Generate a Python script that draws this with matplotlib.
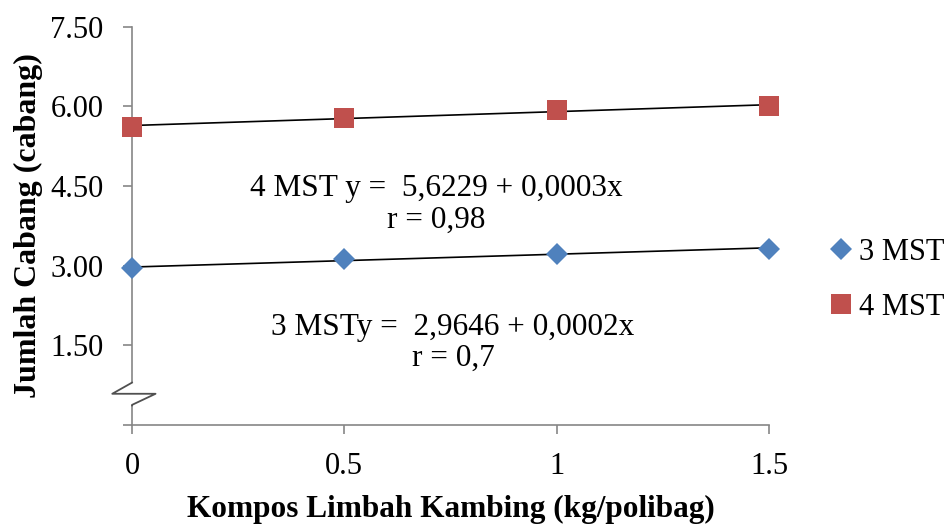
import numpy as np
import matplotlib
matplotlib.use("Agg")
import matplotlib.pyplot as plt
from matplotlib.transforms import blended_transform_factory
from matplotlib.patches import Rectangle
from matplotlib.lines import Line2D

plt.rcParams['font.family'] = ['Liberation Serif', 'DejaVu Serif']

# data
dosis = [0, 0.5, 1, 1.5]
mst3 = [2.95, 3.12, 3.22, 3.32]
mst4 = [5.62, 5.79, 5.93, 6.01]
yticks = [0, 1.5, 3.0, 4.5, 6.0, 7.5]
ytick_labels = ['', '1.50', '3.00', '4.50', '6.00', '7.50']
xticks = [0, 0.5, 1, 1.5]
xtick_labels = ['0', '0.5', '1', '1.5']

blue = '#4F81BD'
red = '#C0504D'
gray = '#868686'

fig = plt.figure(figsize=(9.51, 5.25), dpi=100)
ax = fig.add_axes([0.1388, 0.1914, 0.6698, 0.7572])

x = np.array(dosis)
# trendlines (least squares on the points)
for ys in (mst3, mst4):
    b, a = np.polyfit(x, ys, 1)
    ax.plot(x, a + b * x, color='black', lw=1.2, zorder=2)

ax.plot(dosis, mst3, 'D', color=blue, markersize=11, mew=0, label='3 MST', zorder=3, clip_on=False)
ax.plot(dosis, mst4, 's', color=red, markersize=14.5, mew=0, label='4 MST', zorder=3, clip_on=False)

ax.set_xlim(0, 1.5)
ax.set_ylim(0, 7.5)
ax.set_xticks(xticks)
ax.set_xticklabels(xtick_labels)
ax.set_yticks(yticks)
ax.set_yticklabels(ytick_labels)

for s in ('top', 'right'):
    ax.spines[s].set_visible(False)
for s in ('left', 'bottom'):
    ax.spines[s].set_color(gray)
    ax.spines[s].set_linewidth(1.2)
ax.tick_params(axis='both', colors=gray, length=6.5, width=1.2, labelsize=22, labelcolor='black')
ax.tick_params(axis='y', pad=14)
ax.tick_params(axis='x', pad=13)

ax.set_xlabel('Kompos Limbah Kambing (kg/polibag)', fontsize=22.5, fontweight='bold', labelpad=10)
ax.set_ylabel('Jumlah Cabang (cabang)', fontsize=23, fontweight='bold', labelpad=5)

ax.text(0.716, 4.15, '4 MST y =  5,6229 + 0,0003x\nr = 0,98', ha='center', va='center',
        fontsize=22.5, linespacing=1.1)
ax.text(0.756, 1.54, '3 MSTy =  2,9646 + 0,0002x\nr = 0,7', ha='center', va='center',
        fontsize=22.5, linespacing=1.1)

# axis break symbol
tr = blended_transform_factory(ax.transAxes, ax.transData)
ax.add_patch(Rectangle((-0.035, 0.36), 0.095, 0.43, transform=tr, facecolor='white',
                       edgecolor='none', clip_on=False, zorder=4))
ax.add_line(Line2D([0, -0.031, 0.037, 0, 0], [0.79, 0.58, 0.58, 0.37, 0.36], transform=tr,
                   color='#505050', lw=1.3, clip_on=False, zorder=5))

ax.legend(loc='center left', bbox_to_anchor=(1.096, 0.364), frameon=False, fontsize=22,
          handlelength=0.7, handletextpad=0.25, labelspacing=0.84, borderaxespad=0,
          borderpad=0)

fig.savefig('out.png', dpi=100)
